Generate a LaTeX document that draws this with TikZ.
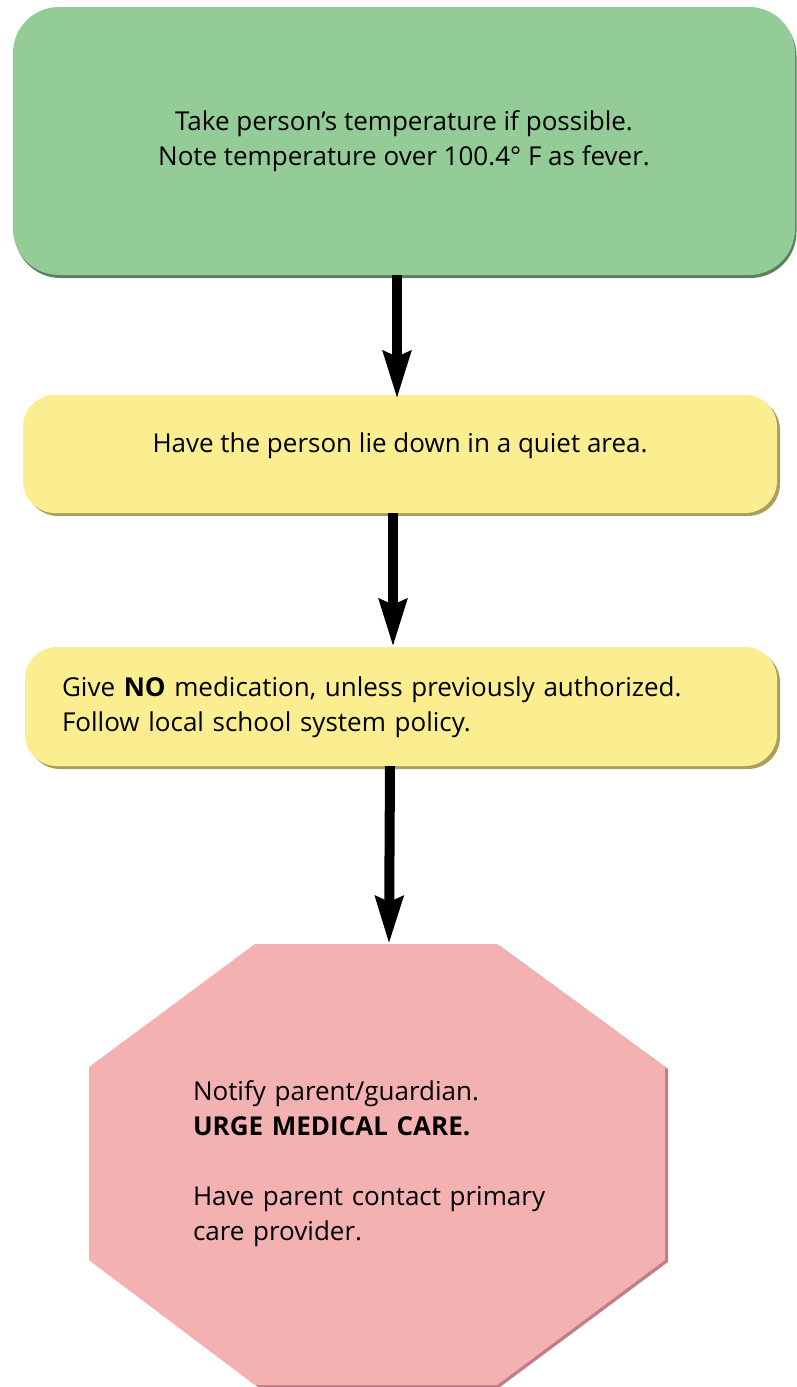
\documentclass[tikz,border=0pt]{standalone}
\usepackage{fontspec}
\setmainfont{Open Sans}
\usetikzlibrary{arrows.meta,shadows}
\definecolor{boxgreen}{RGB}{147,204,151}
\definecolor{greenedge}{RGB}{88,130,92}
\definecolor{boxyellow}{RGB}{250,238,145}
\definecolor{yellowedge}{RGB}{170,160,90}
\definecolor{boxpink}{RGB}{243,177,178}
\definecolor{pinkedge}{RGB}{190,128,133}
\begin{document}
\begin{tikzpicture}[x=1pt,y=-1pt,
  stepbox/.style={draw=none, inner sep=0pt, font=\fontsize{26}{35}\selectfont},
  greenbox/.style={stepbox, fill=boxgreen, rounded corners=46pt,
    copy shadow={shadow xshift=1.5pt, shadow yshift=-3pt, fill=greenedge, draw=none}},
  yellowbox/.style={stepbox, fill=boxyellow, rounded corners=32pt,
    copy shadow={shadow xshift=3pt, shadow yshift=-3pt, fill=yellowedge, draw=none}},
  txt/.style={inner sep=0pt, font=\fontsize{26}{35}\selectfont},
  flow/.style={line width=10pt, -{Stealth[length=47pt,width=27pt,inset=5pt]}}
]
\useasboundingbox (0,0) rectangle (797,1387);

% green box
\node[greenbox, minimum width=782pt, minimum height=268pt] (temp) at (404,141)
  {\begin{tabular}{@{}c@{}}Take person’s temperature if possible.\\
   Note temperature over 100.4° F as fever.\end{tabular}};

% yellow box 1
\node[yellowbox, minimum width=754pt, minimum height=118pt,
  text height=20pt, text depth=23pt] (lie) at (400,454)
  {Have the person lie down in a quiet area.};

% yellow box 2
\node[yellowbox, minimum width=752pt, minimum height=119pt,
  text width=678pt, align=left] (med) at (401,706.5)
  {\begin{tabular}{@{}l@{}}Give \textbf{NO} medication, unless previously authorized.\\
   Follow local school system policy.\end{tabular}};

% octagon
\fill[pinkedge] (258,946) -- (500,946) -- (668,1069) -- (668,1262) -- (500,1387)
  -- (258,1387) -- (92,1262) -- (92,1069) -- cycle;
\fill[boxpink] (255,944) -- (497,944) -- (665,1067) -- (665,1260) -- (497,1385)
  -- (255,1385) -- (89,1260) -- (89,1067) -- cycle;
\coordinate (octtop) at (389,944);
\node[txt, text width=368pt, align=left] (care) at (377,1163)
  {\begin{tabular}{@{}l@{}}Notify parent/guardian.\\
   \textbf{URGE MEDICAL CARE.}\\
   \\
   Have parent contact primary\\
   care provider.\end{tabular}};

% arrows
\draw[flow] ([xshift=-7pt]temp.south) -- ([xshift=-7pt,yshift=-4pt]temp.south |- lie.north);
\draw[flow] ([xshift=-7pt]lie.south) -- ([xshift=-7pt]lie.south |- med.north);
\draw[flow] ([xshift=-11pt]med.south) -- (octtop);
\end{tikzpicture}
\end{document}
